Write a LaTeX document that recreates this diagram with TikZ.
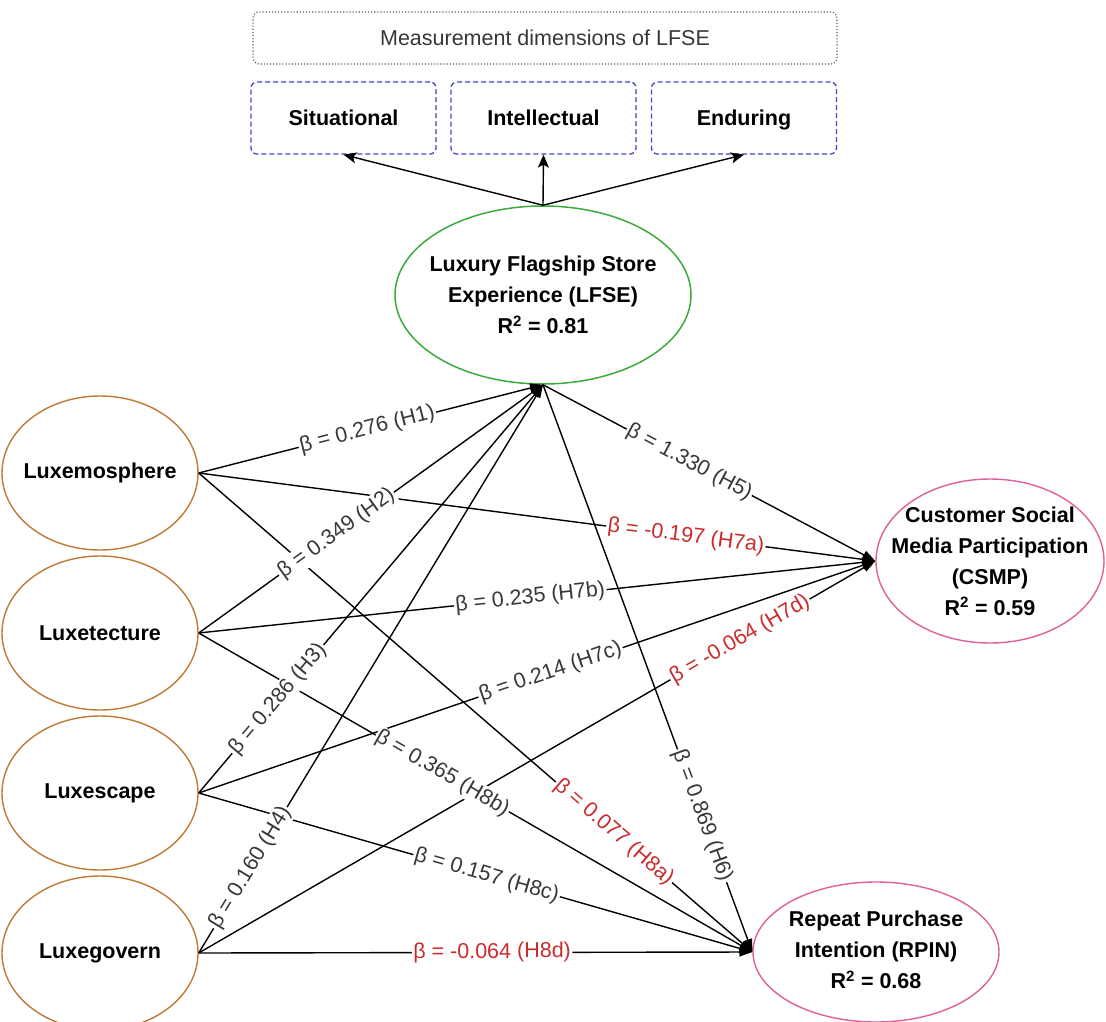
\documentclass[tikz,border=0pt]{standalone}
\usepackage{fontspec}
\setmainfont{Liberation Sans}
\usetikzlibrary{shapes.geometric, arrows.meta}

\definecolor{lfsegreen}{HTML}{3DAA3D}
\definecolor{antebrown}{HTML}{C07A35}
\definecolor{outpink}{HTML}{E0609A}
\definecolor{dimblue}{HTML}{4545CC}
\definecolor{negred}{HTML}{CC2B2B}
\definecolor{labgrey}{HTML}{383838}
\definecolor{boxgrey}{HTML}{555555}

\begin{document}
\begin{tikzpicture}[x=1pt, y=-1pt,
  every node/.style={font=\fontsize{21.5}{25}\selectfont},
  antecedent/.style={ellipse, draw=antebrown, line width=1.4pt,
    minimum width=196pt, minimum height=154pt, inner sep=0pt},
  outcome/.style={ellipse, draw=outpink, line width=1.4pt, inner sep=0pt},
  caption/.style={align=center, text=black,
    font=\bfseries\fontsize{21.5}{31}\selectfont},
  dimbox/.style={draw=dimblue, dash pattern=on 5pt off 3pt,
    rounded corners=6pt, line width=1.3pt, minimum width=185pt,
    minimum height=72pt, text depth=0pt, text=black,
    font=\bfseries\fontsize{21.5}{25}\selectfont},
  link/.style={line width=1.4pt, -{Triangle[length=13pt,width=9pt]}},
  dimlink/.style={line width=1.4pt, -{Stealth[length=13pt,width=11pt,inset=3pt]}},
  coef/.style={sloped, fill=white, inner sep=1.5pt, text=labgrey},
  negcoef/.style={coef, text=negred}
]
\useasboundingbox (0,0) rectangle (1106,1022);
\fill[white] (0,0) rectangle (1106,1022);

% measurement dimensions
\node[draw=boxgrey, dotted, line width=1.1pt, rounded corners=6pt,
  minimum width=584pt, minimum height=52pt, text=labgrey] (dims) at (545,38)
  {Measurement dimensions of LFSE};
\node[dimbox] (sit) at (343.5,118) {Situational};
\node[dimbox] (int) at (543.5,118) {Intellectual};
\node[dimbox] (end) at (744,118) {Enduring};

% constructs
\node[ellipse, draw=lfsegreen, line width=1.5pt, inner sep=0pt,
  minimum width=296pt, minimum height=178pt] (lfse) at (543,295) {};
\node[caption] (lfsetext) at (lfse.center)
  {Luxury Flagship Store\\Experience (LFSE)\\R\textsuperscript{2} = 0.81};

\node[antecedent] (mos) at (100,473) {};
\node[caption] (mostext) at (mos.center) {Luxemosphere};
\node[antecedent] (tec) at (100,633) {};
\node[caption] (tectext) at (tec.center) {Luxetecture};
\node[antecedent] (sca) at (100,793) {};
\node[caption] (scatext) at (sca.center) {Luxescape};
\node[antecedent] (gov) at (100,953) {};
\node[caption] (govtext) at (gov.center) {Luxegovern};

\node[outcome, minimum width=228pt, minimum height=164pt] (csmp) at (990,561) {};
\node[caption] (csmptext) at (csmp.center)
  {Customer Social\\Media Participation\\(CSMP)\\R\textsuperscript{2} = 0.59};
\node[outcome, minimum width=246pt, minimum height=140pt] (rpin) at (876,952) {};
\node[caption] (rpintext) at ([yshift=2pt]rpin.center)
  {Repeat Purchase\\Intention (RPIN)\\R\textsuperscript{2} = 0.68};

% dimension arrows
\draw[dimlink] (lfse.north) -- (sit.south);
\draw[dimlink] (lfse.north) -- (int.south);
\draw[dimlink] (lfse.north) -- (end.south);

% structural paths
\draw[link] (mos.east) -- (lfse.south);
\draw[link] (tec.east) -- (lfse.south);
\draw[link] (sca.east) -- (lfse.south);
\draw[link] (gov.east) -- (lfse.south);
\draw[link] (lfse.south) -- (csmp.west);
\draw[link] (lfse.south) -- (rpin.west);
\draw[link] (mos.east) -- (csmp.west);
\draw[link] (tec.east) -- (csmp.west);
\draw[link] (sca.east) -- (csmp.west);
\draw[link] (gov.east) -- (csmp.west);
\draw[link] (mos.east) -- (rpin.west);
\draw[link] (tec.east) -- (rpin.west);
\draw[link] (sca.east) -- (rpin.west);
\draw[link] (gov.east) -- (rpin.west);

% path coefficients, set above all lines
\path (mos.east) -- node[coef, pos=0.49] {β = 0.276 (H1)} (lfse.south);
\path (tec.east) -- node[coef, pos=0.40] {β = 0.349 (H2)} (lfse.south);
\path (sca.east) -- node[coef, pos=0.23] {β = 0.286 (H3)} (lfse.south);
\path (gov.east) -- node[coef, pos=0.15] {β = 0.160 (H4)} (lfse.south);
\path (lfse.south) -- node[coef, pos=0.44] {β = 1.330 (H5)} (csmp.west);
\path (lfse.south) -- node[coef, pos=0.76] {β = 0.869 (H6)} (rpin.west);
\path (mos.east) -- node[negcoef, pos=0.72] {β = -0.197 (H7a)} (csmp.west);
\path (tec.east) -- node[coef, pos=0.49] {β = 0.235 (H7b)} (csmp.west);
\path (sca.east) -- node[coef, pos=0.52] {β = 0.214 (H7c)} (csmp.west);
\path (gov.east) -- node[negcoef, pos=0.80] {β = -0.064 (H7d)} (csmp.west);
\path (mos.east) -- node[negcoef, pos=0.75] {β = 0.077 (H8a)} (rpin.west);
\path (tec.east) -- node[coef, pos=0.44] {β = 0.365 (H8b)} (rpin.west);
\path (sca.east) -- node[coef, pos=0.52] {β = 0.157 (H8c)} (rpin.west);
\path (gov.east) -- node[negcoef, pos=0.53] {β = -0.064 (H8d)} (rpin.west);
\end{tikzpicture}
\end{document}
